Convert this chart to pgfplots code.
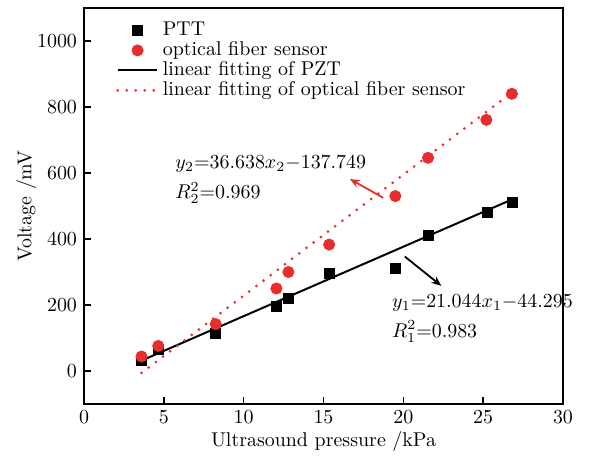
\documentclass[border=0pt]{standalone}
\usepackage{pgfplots}
\pgfplotsset{compat=1.18}
\usetikzlibrary{arrows.meta}
\definecolor{fibred}{RGB}{232,45,45}
\begin{document}
\begin{tikzpicture}
\path[use as bounding box] (-42bp,-26bp) rectangle (257.5bp,202bp);
\begin{axis}[
    scale only axis,
    width=239.5bp, height=198bp,
    xmin=0, xmax=30, ymin=-100, ymax=1100,
    xtick={0,5,...,30},
    ytick={0,200,...,1000},
    /pgf/number format/set thousands separator={},
    tick align=inside,
    xtick pos=bottom, ytick pos=left,
    major tick length=3.5bp,
    clip=false,
    axis line style={line width=0.8pt},
    tick style={line width=0.8pt, black},
    xlabel={Ultrasound pressure /kPa},
    ylabel={Voltage /mV},
    xlabel style={yshift=3pt},
    ylabel style={yshift=-6.5bp},
    legend cell align=left,
    legend style={at={(0.054,0.985)}, anchor=north west, draw=none, fill=none,
        row sep=-2.5pt, font=\normalsize},
    legend image code/.code={\draw[mark repeat=2,mark phase=2,#1] plot coordinates {(0cm,0cm) (0.35cm,0cm) (0.7cm,0cm)};},
]
% PTT data
\addplot[only marks, mark=square*, mark size=2.5bp, black] coordinates {
(3.6,31) (4.65,66) (8.25,114) (12.05,195) (12.8,220) (15.35,296)
(19.5,310) (21.55,411) (25.25,481) (26.8,511)};
\addlegendentry{PTT}
% optical fiber sensor data
\addplot[only marks, mark=*, mark size=2.8bp, fibred, mark options={draw=fibred, fill=fibred}] coordinates {
(3.6,44) (4.65,76) (8.25,142) (12.05,250) (12.8,300) (15.35,383)
(19.5,530) (21.55,646) (25.2,761) (26.8,840)};
\addlegendentry{optical fiber sensor}
% linear fits
\addplot[black, line width=1bp] coordinates {(3.6,31.5) (26.8,519.7)};
\addlegendentry{linear fitting of PZT}
\addplot[fibred, line width=1.5bp, line cap=round, dash pattern=on 0pt off 4.5bp] coordinates {(3.6,-5.8) (26.8,844.1)};
\addlegendentry{linear fitting of optical fiber sensor}
% annotations
\draw[fibred, line width=0.9pt, -{Stealth[length=5pt,width=4pt]}] (axis cs:18.73,525) -- (axis cs:16.65,582);
\draw[black, line width=0.9pt, -{Stealth[length=5pt,width=4pt]}] (axis cs:20.09,347) -- (axis cs:22.38,258);
\node[anchor=west, inner sep=0pt, align=left] at (axis cs:5.7,581)
  {$y_2$=36.638$x_2$$-$137.749\\[3bp]$R_2^2$=0.969};
\node[anchor=west, inner sep=0pt, align=left] at (axis cs:19.27,161)
  {$y_1$=21.044$x_1$$-$44.295\\[3bp]$R_1^2$=0.983};
\end{axis}
\end{tikzpicture}
\end{document}
